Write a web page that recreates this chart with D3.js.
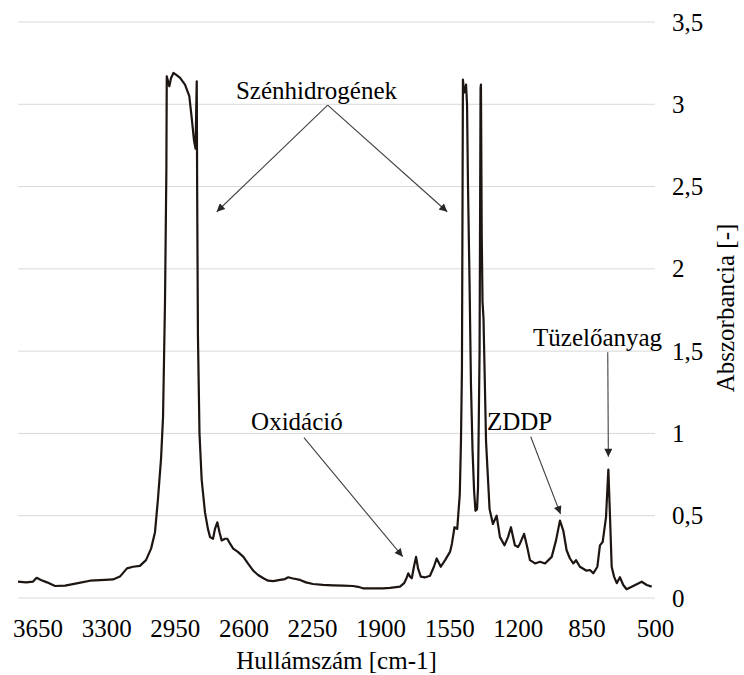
<!DOCTYPE html>
<html>
<head>
<meta charset="utf-8">
<script src="https://cdn.jsdelivr.net/npm/d3@7"></script>
<style>
  body { margin: 0; background: #fff; }
  svg text { font-family: "Liberation Serif", "Times New Roman", Times, "DejaVu Serif", serif !important; }
</style>
</head>
<body>
<svg id="chart" width="744" height="675"></svg>
<script>
// wavenumber [cm-1] and absorbance
var wavenumbers = [3750, 3709, 3673, 3655, 3633, 3602, 3561, 3510, 3444, 3383, 3306, 3265, 3230, 3194, 3163, 3128,
  3097, 3071, 3051, 3036, 3020, 3010, 3000, 2993, 2991, 2978, 2969, 2957, 2944, 2923, 2898, 2876, 2864, 2852, 2844,
  2841, 2838, 2836, 2832, 2824, 2813, 2796, 2781, 2770, 2755, 2745, 2733, 2722, 2711, 2694, 2682, 2668, 2652, 2628,
  2600, 2577, 2550, 2525, 2498, 2474, 2447, 2413, 2388, 2371, 2352, 2311, 2281, 2245, 2194, 2143, 2092, 2041, 2015,
  1990, 1939, 1888, 1852, 1801, 1780, 1768, 1759, 1750, 1741, 1730, 1719, 1709, 1695, 1674, 1648, 1628, 1614, 1593,
  1571, 1546, 1536, 1523, 1509, 1496, 1490, 1485, 1482, 1480, 1474, 1469, 1464, 1459, 1454, 1446, 1439, 1431, 1423,
  1416, 1408, 1403, 1395, 1390, 1388, 1384, 1380, 1375, 1362, 1344, 1327, 1308, 1291, 1268, 1250, 1235, 1215, 1199,
  1189, 1168, 1152, 1138, 1112, 1087, 1061, 1027, 1005, 985, 968, 951, 934, 917, 903, 883, 849, 832, 815, 794, 781,
  767, 750, 738, 730, 721, 709, 695, 679, 662, 645, 611, 568, 542, 517];

var absorbance = [0.099, 0.095, 0.100, 0.123, 0.110, 0.095, 0.073, 0.075, 0.090, 0.105, 0.110, 0.113, 0.130, 0.180,
  0.190, 0.195, 0.230, 0.300, 0.400, 0.600, 0.850, 1.100, 1.800, 2.600, 3.170, 3.110, 3.160, 3.190, 3.180, 3.160,
  3.120, 3.050, 2.920, 2.780, 2.730, 2.950, 3.140, 2.500, 1.600, 1.000, 0.720, 0.520, 0.420, 0.370, 0.360, 0.420,
  0.460, 0.400, 0.350, 0.360, 0.360, 0.330, 0.300, 0.280, 0.250, 0.210, 0.166, 0.140, 0.120, 0.105, 0.103, 0.110,
  0.115, 0.126, 0.120, 0.110, 0.095, 0.085, 0.080, 0.077, 0.075, 0.073, 0.068, 0.059, 0.059, 0.059, 0.062, 0.069,
  0.090, 0.120, 0.150, 0.130, 0.120, 0.190, 0.250, 0.180, 0.130, 0.125, 0.135, 0.190, 0.240, 0.190, 0.230, 0.280,
  0.330, 0.430, 0.420, 0.630, 0.950, 1.390, 2.400, 3.150, 3.070, 3.080, 3.120, 3.000, 2.500, 1.900, 1.300, 0.900,
  0.650, 0.530, 0.540, 0.670, 1.500, 3.100, 3.120, 2.200, 1.800, 1.700, 0.950, 0.540, 0.450, 0.500, 0.370, 0.320,
  0.370, 0.430, 0.320, 0.310, 0.330, 0.390, 0.310, 0.230, 0.210, 0.220, 0.210, 0.250, 0.350, 0.470, 0.410, 0.290,
  0.240, 0.210, 0.230, 0.190, 0.166, 0.170, 0.150, 0.190, 0.320, 0.340, 0.490, 0.780, 0.510, 0.190, 0.130, 0.090,
  0.126, 0.079, 0.053, 0.073, 0.099, 0.079, 0.069];

var xTicks = [3650, 3300, 2950, 2600, 2250, 1900, 1550, 1200, 850, 500];
var yTicks = [0, 0.5, 1, 1.5, 2, 2.5, 3, 3.5];

var xTitle = "Hullámszám [cm-1]";
var yTitle = "Abszorbancia [-]";

// label text, where it sits, and the arrows leaving it (all in data units)
var noteLabels = ["Szénhidrogének", "Oxidáció", "ZDDP", "Tüzelőanyag"];
var noteAt = [[2227, 3.03], [2327, 1.02], [1191, 1.02], [793, 1.53]];
var noteArrows = [
  [[2170, 2.995, 2736, 2.347], [2170, 2.995, 1560, 2.347]],
  [[2291, 0.974, 1787, 0.251]],
  [[1134, 0.98, 982, 0.51]],
  [[741, 1.493, 738, 0.858]]
];

var svg = d3.select("#chart");
var plotLeft = 18, plotRight = 655, plotTop = 22, plotBottom = 598;
var fontSize = 25;

var x = d3.scaleLinear().domain([3750, 500]).range([plotLeft, plotRight]);
var y = d3.scaleLinear().domain([0, 3.5]).range([plotBottom, plotTop]);

var comma = (v) => String(v).replace(".", ",");

// gridlines
svg.append("g")
  .selectAll("line")
  .data(yTicks)
  .join("line")
    .attr("x1", plotLeft)
    .attr("x2", plotRight)
    .attr("y1", d => y(d))
    .attr("y2", d => y(d))
    .attr("stroke", "#d9d9d9")
    .attr("stroke-width", 1);

// y axis on the right (x axis is reversed)
var yAxis = svg.append("g")
  .attr("transform", "translate(" + (plotRight + 17) + ",0)")
  .call(d3.axisRight(y).tickValues(yTicks).tickFormat(comma).tickSize(0).tickPadding(0));
yAxis.select(".domain").remove();
yAxis.selectAll("text")
  .attr("font-size", fontSize)
  .attr("fill", "#000");

var xAxis = svg.append("g")
  .attr("transform", "translate(0," + (plotBottom + 21) + ")")
  .call(d3.axisBottom(x).tickValues(xTicks).tickFormat(d3.format("d")).tickSize(0).tickPadding(0));
xAxis.select(".domain").remove();
xAxis.selectAll("text")
  .attr("font-size", fontSize)
  .attr("fill", "#000");

svg.append("text")
  .attr("x", (plotLeft + plotRight) / 2)
  .attr("y", 669)
  .attr("text-anchor", "middle")
  .attr("font-size", fontSize)
  .text(xTitle);

svg.append("text")
  .attr("transform", "translate(734," + 308 + ") rotate(-90)")
  .attr("text-anchor", "middle")
  .attr("font-size", fontSize)
  .text(yTitle);

// spectrum
var points = wavenumbers.map((w, i) => [w, absorbance[i]]);
var line = d3.line()
  .x(d => x(d[0]))
  .y(d => y(d[1]));

svg.append("path")
  .datum(points)
  .attr("d", line)
  .attr("fill", "none")
  .attr("stroke", "#1c1512")
  .attr("stroke-width", 2.2)
  .attr("stroke-linejoin", "round");

// annotations
svg.append("defs").append("marker")
  .attr("id", "head")
  .attr("viewBox", "0 0 10 10")
  .attr("refX", 10)
  .attr("refY", 5)
  .attr("markerWidth", 10)
  .attr("markerHeight", 8)
  .attr("markerUnits", "userSpaceOnUse")
  .attr("orient", "auto")
  .append("path")
    .attr("d", "M0,0L10,5L0,10Z")
    .attr("fill", "#262626");

noteLabels.forEach((label, i) => {
  svg.append("text")
    .attr("x", x(noteAt[i][0]))
    .attr("y", y(noteAt[i][1]))
    .attr("text-anchor", "middle")
    .attr("font-size", fontSize)
    .attr("fill", "#000")
    .text(label);

  for (let a of noteArrows[i]) {
    svg.append("line")
      .attr("x1", x(a[0]))
      .attr("y1", y(a[1]))
      .attr("x2", x(a[2]))
      .attr("y2", y(a[3]))
      .attr("stroke", "#404040")
      .attr("stroke-width", 1.1)
      .attr("marker-end", "url(#head)");
  }
});
</script>
</body>
</html>
